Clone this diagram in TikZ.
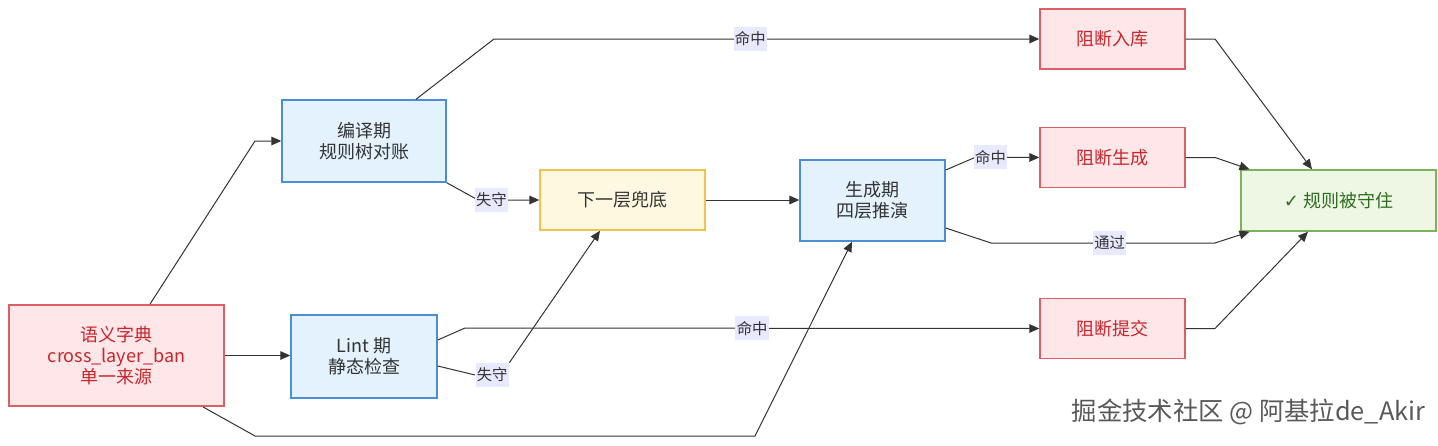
\documentclass[tikz,border=0pt]{standalone}
\usepackage{fontspec}
\setmainfont{Noto Sans CJK SC}
\newfontfamily\symfont{DejaVu Sans}
\usetikzlibrary{arrows.meta}

\definecolor{redfill}{HTML}{FFE6E8}
\definecolor{reddraw}{HTML}{DD5F66}
\definecolor{redtext}{HTML}{C8262C}
\definecolor{bluefill}{HTML}{E3F2FD}
\definecolor{bluedraw}{HTML}{4A8FD6}
\definecolor{yellowfill}{HTML}{FFF8E1}
\definecolor{yellowdraw}{HTML}{F5C14A}
\definecolor{greenfill}{HTML}{EEF7E4}
\definecolor{greendraw}{HTML}{7CB35A}
\definecolor{greentext}{HTML}{2E6B1F}
\definecolor{labelfill}{HTML}{E8E8FF}
\definecolor{linecol}{HTML}{333333}

\begin{document}
\begin{tikzpicture}[x=0.75pt, y=-0.75pt,
    box/.style={draw, line width=1.1pt, align=center, inner sep=2pt,
      font=\fontsize{13.5}{15.5}\selectfont, text=linecol},
    redbox/.style={box, fill=redfill, draw=reddraw, text=redtext},
    bluebox/.style={box, fill=bluefill, draw=bluedraw},
    yellowbox/.style={box, fill=yellowfill, draw=yellowdraw},
    greenbox/.style={box, fill=greenfill, draw=greendraw, text=greentext},
    arr/.style={draw=linecol, line width=0.75pt,
      -{Triangle[length=7.5pt, width=6.5pt]}},
    lbl/.style={fill=labelfill, inner xsep=1pt, inner ysep=3.5pt, text=linecol,
      font=\fontsize{11.5}{12}\selectfont}]

  \useasboundingbox (0,0) rectangle (1438,446);

  % sources and checks
  \node[redbox, minimum width=161pt, minimum height=76pt] (dict) at (116.5,355.5)
    {语义字典\\cross\_layer\_ban\\单一来源};
  \node[bluebox, minimum width=123pt, minimum height=61.5pt] (compile) at (364,141)
    {编译期\\规则树对账};
  \node[bluebox, minimum width=109.5pt, minimum height=62pt] (lint) at (364,356.5)
    {Lint 期\\静态检查};
  \node[yellowbox, minimum width=123.75pt, minimum height=45pt] (fallback) at (622.5,200)
    {下一层兜底};
  \node[bluebox, minimum width=108.75pt, minimum height=60.75pt] (gen) at (872.5,200.5)
    {生成期\\四层推演};

  % results
  \node[redbox, minimum width=108.75pt, minimum height=45pt] (blockdb) at (1112.5,39)
    {阻断入库};
  \node[redbox, minimum width=108.75pt, minimum height=45pt] (blockgen) at (1112.5,157.5)
    {阻断生成};
  \node[redbox, minimum width=108.75pt, minimum height=45pt] (blockcommit) at (1112.5,328.5)
    {阻断提交};
  \node[greenbox, minimum width=146pt, minimum height=45.75pt] (kept) at (1338.5,200.5)
    {{\symfont ✓} 规则被守住};

  % connectors
  \draw[arr] ([shift={(33.5,0)}]dict.north) -- (255,141) -- (compile.west);
  \draw[arr] (dict.east) -- (lint.west |- dict.east);
  \draw[arr] ([shift={(86.5,0)}]dict.south) -- (255,436) -- (755,436)
    -- ([shift={(-20.5,0)}]gen.south);

  \draw[arr] ([shift={(52,0)}]compile.north) -- (494,39)
    -- node[lbl, pos=0.47] (hitdb) {命中} (blockdb.west);
  \draw[arr] (compile.south east) -- (478,200)
    -- node[lbl, pos=0.22] (losta) {失守} (fallback.west);

  \draw[arr] ([shift={(0,-16.5)}]lint.east) -- (465,328)
    -- node[lbl, pos=0.5] (hitcommit) {命中} (blockcommit.west);
  \draw[arr] ([shift={(0,9.5)}]lint.east) -- (475,375)
    node[lbl, anchor=west] (lostb) {失守}
    (lostb.north east) -- ([shift={(-22.5,0)}]fallback.south);

  \draw[arr] (fallback.east) -- (gen.west |- fallback.east);

  \draw[arr] ([shift={(0,-30.5)}]gen.east) -- (976,157)
    -- node[lbl, pos=0.23] (hitgen) {命中} (blockgen.west);
  \draw[arr] ([shift={(0,27.5)}]gen.east) -- (991,243)
    -- node[lbl, pos=0.53] (pass) {通过} (1215,243)
    -- ([shift={(9,0)}]kept.south west);

  \draw[arr] (blockdb.east) -- (1215,39) -- ([shift={(-26.5,0)}]kept.north);
  \draw[arr] (blockgen.east) -- (1215,157.5) -- ([shift={(9,0)}]kept.north west);
  \draw[arr] (blockcommit.east) -- (1215,328.5) -- ([shift={(-30.5,0)}]kept.south);

  \node[text=black!65, font=\fontsize{19}{20}\selectfont, anchor=east] (mark) at (1430,412)
    {掘金技术社区 @ 阿基拉de\_Akir};

\end{tikzpicture}
\end{document}
